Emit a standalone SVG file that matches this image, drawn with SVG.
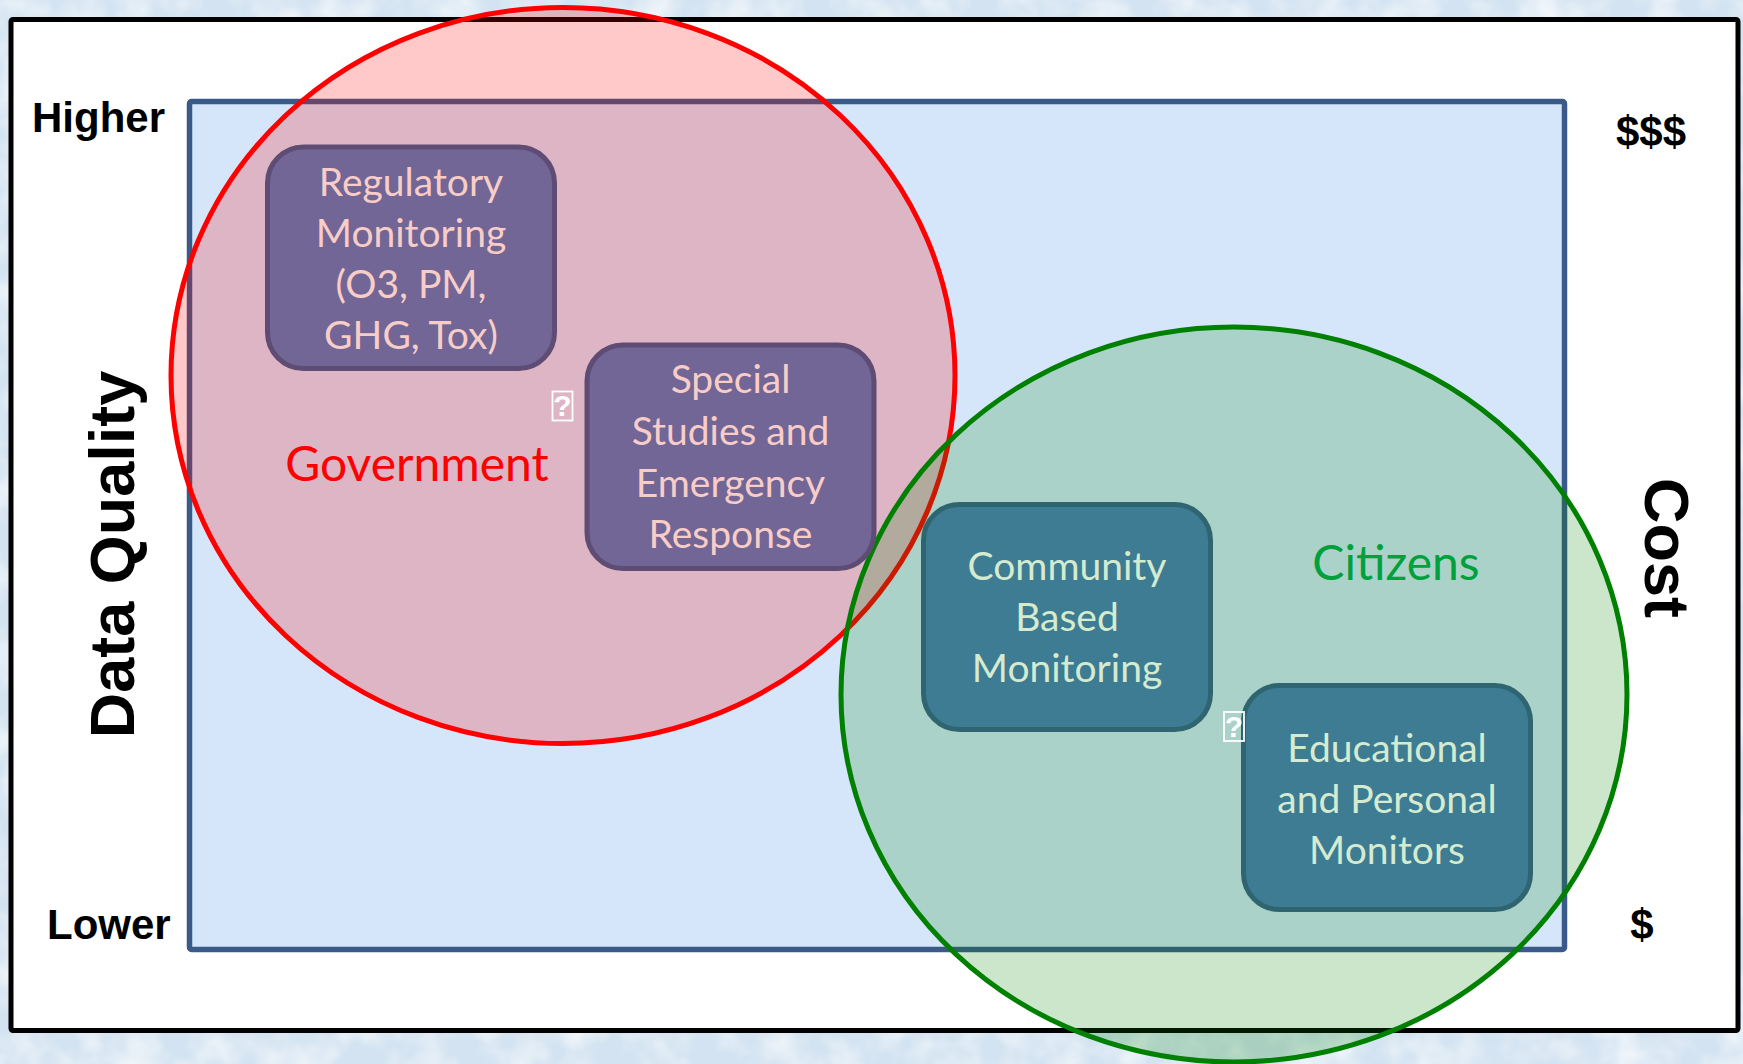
<svg xmlns="http://www.w3.org/2000/svg" width="1743" height="1064" viewBox="0 0 1743 1064">
  <defs>
    <filter id="tex" x="0" y="0" width="100%" height="100%">
      <feTurbulence type="fractalNoise" baseFrequency="0.025" numOctaves="3" seed="7" result="n"/>
      <feColorMatrix in="n" type="matrix" values="0 0 0 0 1  0 0 0 0 1  0 0 0 0 1  1.4 0 0 0 -0.55"/>
    </filter>
    <style>
      .axis { font-family: "Liberation Sans", Arial, sans-serif; font-weight: bold; fill: #000; }
      .box-p { fill: #716696; stroke: #5e4c74; stroke-width: 5; }
      .box-t { fill: #3e7c93; stroke: #2f6570; stroke-width: 5; }
      .lbl { font-family: Lato, "Open Sans", sans-serif; font-size: 39px; text-anchor: middle; }
      .lbl-p { fill: #f9cdc7; }
      .lbl-t { fill: #d5ebd0; }
      .tofu rect { fill: none; stroke: #ffffff; stroke-width: 1.8; }
      .tofu text { font-family: "Liberation Sans", Arial, sans-serif; font-size: 30px; font-weight: bold; fill: #ffffff; text-anchor: middle; }
    </style>
  </defs>

  <!-- textured background -->
  <rect x="0" y="0" width="1743" height="1064" fill="#d3e3f1"/>
  <rect x="0" y="0" width="1743" height="1064" filter="url(#tex)"/>

  <!-- frame -->
  <rect x="11" y="19.5" width="1727" height="1011" fill="#ffffff" stroke="#000000" stroke-width="5" rx="2"/>

  <!-- plot area -->
  <rect x="189.5" y="101.5" width="1375" height="848" fill="#d6e6fa" stroke="#3a5b8a" stroke-width="5.5" rx="2"/>

  <!-- axis labels -->
  <g id="axis-labels">
    <text class="axis" x="32" y="132" font-size="42">Higher</text>
    <text class="axis" x="47" y="939" font-size="42">Lower</text>
    <text class="axis" x="1651" y="146" font-size="42" text-anchor="middle">$$$</text>
    <text class="axis" x="1642" y="939" font-size="42" text-anchor="middle">$</text>
    <text class="axis" font-size="63" text-anchor="middle" transform="translate(134,554.5) rotate(-90)">Data Quality</text>
    <text class="axis" font-size="63" text-anchor="middle" transform="translate(1645,548) rotate(90)">Cost</text>
  </g>

  <!-- groups -->
  <g id="government">
    <ellipse cx="563" cy="375.5" rx="392" ry="368" fill="#ff0000" fill-opacity="0.21" stroke="#ff0000" stroke-width="5"/>
    <text x="417" y="481" font-family="Lato, 'Open Sans', sans-serif" font-size="48" fill="#ff0000" text-anchor="middle">Government</text>
  </g>
  <g id="citizens">
    <ellipse cx="1234" cy="694.5" rx="393" ry="367.5" fill="#008000" fill-opacity="0.2" stroke="#008000" stroke-width="5"/>
    <text x="1396" y="580" font-family="Lato, 'Open Sans', sans-serif" font-size="48" fill="#00a03c" text-anchor="middle">Citizens</text>
  </g>

  <g id="connectors"/>

  <g id="regulatory">
    <rect class="box-p" x="267.5" y="147" width="287" height="221.5" rx="36"/>
    <text class="lbl lbl-p" x="411" y="196">Regulatory</text>
    <text class="lbl lbl-p" x="411" y="247">Monitoring</text>
    <text class="lbl lbl-p" x="411" y="298">(O3, PM,</text>
    <text class="lbl lbl-p" x="411" y="349">GHG, Tox)</text>
  </g>

  <g id="special">
    <rect class="box-p" x="587" y="345" width="287" height="223.5" rx="36"/>
    <text class="lbl lbl-p" x="730.5" y="393">Special</text>
    <text class="lbl lbl-p" x="730.5" y="445">Studies and</text>
    <text class="lbl lbl-p" x="730.5" y="497">Emergency</text>
    <text class="lbl lbl-p" x="730.5" y="548">Response</text>
  </g>

  <g id="community">
    <rect class="box-t" x="923.5" y="504.5" width="287" height="225" rx="36"/>
    <text class="lbl lbl-t" x="1067" y="580">Community</text>
    <text class="lbl lbl-t" x="1067" y="631">Based</text>
    <text class="lbl lbl-t" x="1067" y="682">Monitoring</text>
  </g>

  <g id="educational">
    <rect class="box-t" x="1243.5" y="685.5" width="287" height="224" rx="36"/>
    <text class="lbl lbl-t" x="1387" y="762">Educational</text>
    <text class="lbl lbl-t" x="1387" y="813">and Personal</text>
    <text class="lbl lbl-t" x="1387" y="864">Monitors</text>
  </g>

  <g id="tofu-1" class="tofu">
    <rect x="552.5" y="391.5" width="20" height="29"/>
    <text x="562.5" y="416">?</text>
  </g>
  <g id="tofu-2" class="tofu">
    <rect x="1224" y="712" width="20" height="29"/>
    <text x="1234" y="736.5">?</text>
  </g>
</svg>
